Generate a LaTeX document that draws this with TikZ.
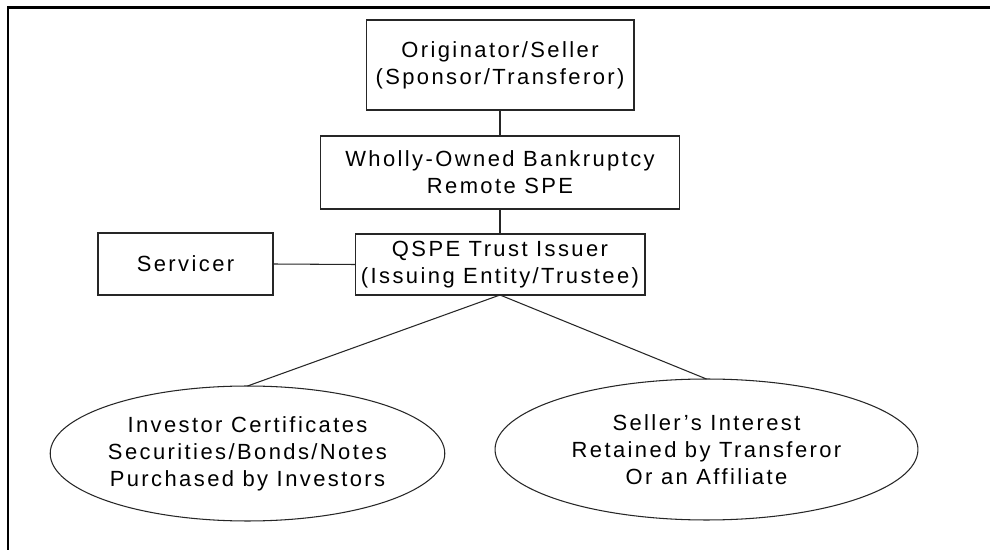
\documentclass[tikz,border=0pt]{standalone}
\usepackage{fontspec}
\setmainfont[LetterSpace=11]{Liberation Sans}
\usetikzlibrary{shapes.geometric}

\begin{document}
\begin{tikzpicture}[x=0.02cm,y=-0.02cm,
    font=\fontsize{12.5}{15.4}\selectfont,
    entity/.style={draw=black!85,line width=0.6pt,align=center,inner sep=0pt,outer sep=0pt},
    holder/.style={entity,ellipse},
    link/.style={draw=black!85,line width=0.6pt}]
  \fill[white] (0,0) rectangle (991,550);
  \useasboundingbox (0,0) rectangle (991,550);
  % page frame
  \draw[line width=1.2pt] (8,550) -- (8,7.5) -- (990,7.5);
  % entities
  \node[entity,minimum width=5.36cm,minimum height=1.8cm] (orig)
    at (500,65) {Originator/Seller\\(Sponsor/Transferor)};
  \node[entity,minimum width=7.2cm,minimum height=1.46cm] (spe)
    at (500,172.5) {Wholly-Owned Bankruptcy\\Remote SPE};
  \node[entity,minimum width=5.8cm,minimum height=1.22cm] (qspe)
    at (500,264.5) {QSPE Trust Issuer\\(Issuing Entity/Trustee)};
  \node[entity,minimum width=3.5cm,minimum height=1.24cm] (serv)
    at (185.5,264) {Servicer};
  % interests
  \node[holder,minimum width=7.3cm,minimum height=2.7cm] (inv)
    at (247.5,453.5) {Investor Certificates\\Securities/Bonds/Notes\\Purchased by Investors};
  \node[holder,minimum width=8.46cm,minimum height=2.82cm] (sell)
    at (706.5,449.5) {Seller's Interest\\Retained by Transferor\\Or an Affiliate};
  % links
  \draw[link] (orig.south) -- (spe.north);
  \draw[link] (spe.south) -- (qspe.north);
  \draw[link] (serv.east) -- (qspe.west);
  \draw[link] (qspe.south) -- (inv.north);
  \draw[link] (qspe.south) -- (sell.north);
\end{tikzpicture}
\end{document}
